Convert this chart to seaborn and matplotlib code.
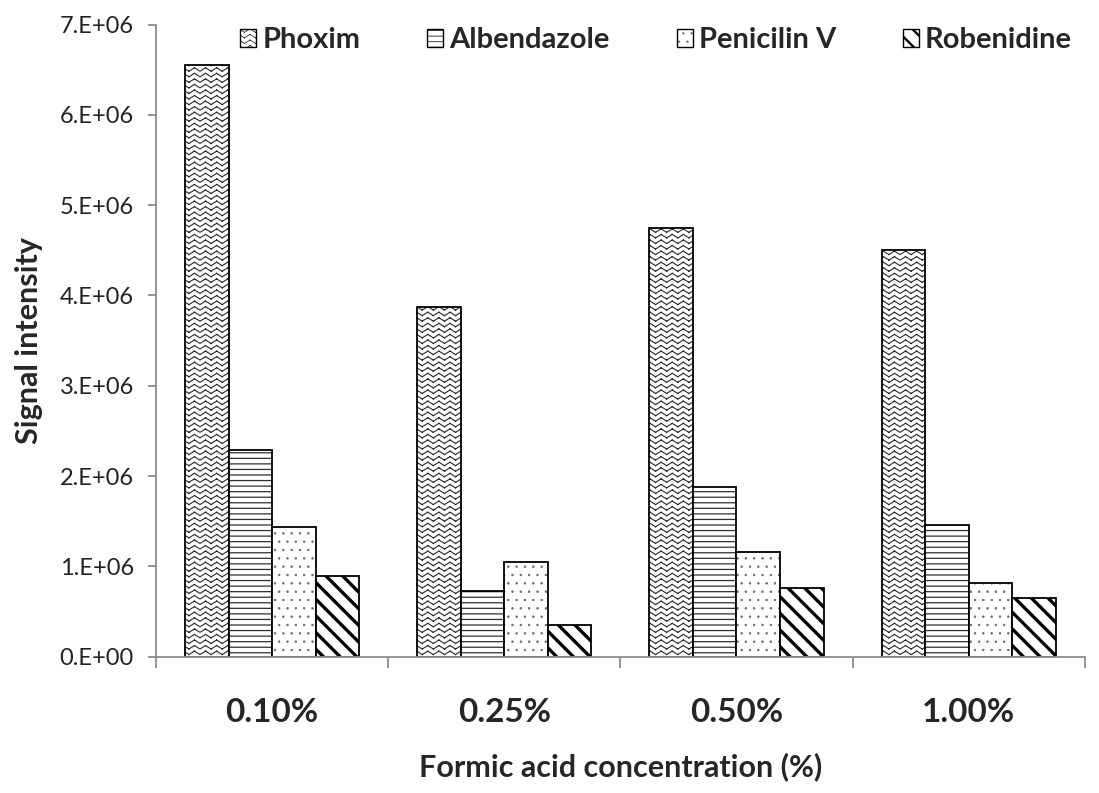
import warnings
warnings.filterwarnings("ignore")
import numpy as np
import pandas as pd
import matplotlib
matplotlib.use("Agg")
import matplotlib.pyplot as plt
import seaborn as sns
from matplotlib import hatch as mhatch
from matplotlib.path import Path
from matplotlib.patches import Patch
from matplotlib.colors import to_rgba
from matplotlib.ticker import FuncFormatter, FixedLocator

# ---------------- data ----------------
concentrations = ["0.10%", "0.25%", "0.50%", "1.00%"]
compounds = ["Phoxim", "Albendazole", "Penicilin V", "Robenidine"]
phoxim = [6.55e6, 3.87e6, 4.75e6, 4.50e6]
albendazole = [2.29e6, 0.73e6, 1.88e6, 1.46e6]
penicilin_v = [1.43e6, 1.05e6, 1.16e6, 0.82e6]
robenidine = [0.89e6, 0.35e6, 0.76e6, 0.65e6]
y_ticks = [0, 1e6, 2e6, 3e6, 4e6, 5e6, 6e6, 7e6]

series = {"Phoxim": phoxim, "Albendazole": albendazole,
          "Penicilin V": penicilin_v, "Robenidine": robenidine}
df = pd.DataFrame([(c, comp, v) for comp in compounds
                   for c, v in zip(concentrations, series[comp])],
                  columns=["conc", "compound", "value"])


# ---------------- custom zigzag hatch (separate 2-point segments) ----------------
class ZigZagHatch(mhatch.HatchPatternBase):
    teeth = 9

    def __init__(self, hatch, density):
        self.num_rows = hatch.count("z") * density
        self.num_vertices = self.num_rows * (2 * self.teeth) * 2 if self.num_rows else 0

    def set_vertices_and_codes(self, vertices, codes):
        n, k = self.num_rows, self.teeth
        step = 1.0 / n
        m = 2 * k + 1
        xs = np.linspace(0, 1, m)
        idx = 0
        for i in range(n):
            base = (i + 0.18) * step
            ys = base + 0.62 * step * (np.arange(m) % 2)
            for j in range(m - 1):
                vertices[idx] = (xs[j], ys[j])
                vertices[idx + 1] = (xs[j + 1], ys[j + 1])
                codes[idx] = Path.MOVETO
                codes[idx + 1] = Path.LINETO
                idx += 2


mhatch._hatch_types.append(ZigZagHatch)

hatches = {"Phoxim": "zzz", "Albendazole": "---", "Penicilin V": "..",
           "Robenidine": "\\\\"}
hatch_lw = {"Phoxim": 0.8, "Albendazole": 0.9, "Penicilin V": 0.5,
            "Robenidine": 2.4}
hatch_col = {"Phoxim": "#2a2a2a", "Albendazole": "#2e2e2e",
             "Penicilin V": "#666666", "Robenidine": "#000000"}


def style_hatch(patch, comp, scale=1.0):
    lw = hatch_lw[comp] * scale
    if hasattr(patch, "set_hatch_linewidth"):
        patch.set_hatch_linewidth(lw)
    patch._hatch_color = to_rgba(hatch_col[comp])
    orig = patch.draw

    def draw(renderer, _orig=orig, _lw=lw):
        with plt.rc_context({"hatch.linewidth": _lw}):
            _orig(renderer)

    patch.draw = draw


# ---------------- plot ----------------
sns.set_theme(style="white")
plt.rcParams["font.family"] = ["Lato", "DejaVu Sans"]
plt.rcParams["hatch.color"] = "black"

fig = plt.figure(figsize=(10.99, 7.93), dpi=100)
ax = fig.add_axes([0.142, 0.172, 0.845, 0.797])

sns.barplot(data=df, x="conc", y="value", hue="compound", hue_order=compounds,
            order=concentrations, palette=["white"] * 4, edgecolor="black",
            linewidth=1.3, width=0.75, errorbar=None, legend=False, ax=ax,
            saturation=1)

for comp, cont in zip(compounds, ax.containers):
    for bar in cont:
        bar.set_hatch(hatches[comp])
        bar.set_facecolor("white")
        bar.set_edgecolor("black")
        style_hatch(bar, comp)

ax.set_ylim(0, 7e6)
ax.set_xlim(-0.5, 3.5)
ax.yaxis.set_major_locator(FixedLocator(y_ticks))


def sci_fmt(v, pos):
    if v == 0:
        return "0.E+00"
    e = int(np.floor(np.log10(abs(v))))
    return f"{v / 10 ** e:.0f}.E+{e:02d}"


ax.yaxis.set_major_formatter(FuncFormatter(sci_fmt))

for s in ["top", "right"]:
    ax.spines[s].set_visible(False)
for s in ["left", "bottom"]:
    ax.spines[s].set_color("#8c8c8c")
    ax.spines[s].set_linewidth(1.3)

ax.tick_params(axis="y", which="major", direction="out", length=6, width=1.3,
               color="#8c8c8c", labelsize=17, pad=10, labelcolor="#222222",
               left=True)
ax.xaxis.set_minor_locator(FixedLocator([-0.5, 0.5, 1.5, 2.5, 3.5]))
ax.tick_params(axis="x", which="minor", direction="out", length=8, width=1.3,
               color="#8c8c8c", bottom=True)
ax.tick_params(axis="x", which="major", length=0, pad=30, labelsize=24)
for lbl in ax.get_xticklabels():
    lbl.set_fontweight("bold")

ax.set_xlabel("Formic acid concentration (%)", fontsize=22, fontweight="bold",
              labelpad=18)
ax.set_ylabel("Signal intensity", fontsize=22, fontweight="bold", labelpad=12)

handles = [Patch(facecolor="white", edgecolor="black", hatch=hatches[c],
                 linewidth=1.0, label=c) for c in compounds]

leg = fig.legend(handles=handles, loc="center", bbox_to_anchor=(0.597, 0.949),
                 ncol=4, frameon=False, prop={"size": 21, "weight": "bold"},
                 handlelength=0.55, handleheight=0.55, handletextpad=0.2,
                 columnspacing=2.3, borderaxespad=0)
for comp, p in zip(compounds, leg.get_patches()):
    style_hatch(p, comp, scale=0.7)

fig.savefig("out.png", dpi=100)
